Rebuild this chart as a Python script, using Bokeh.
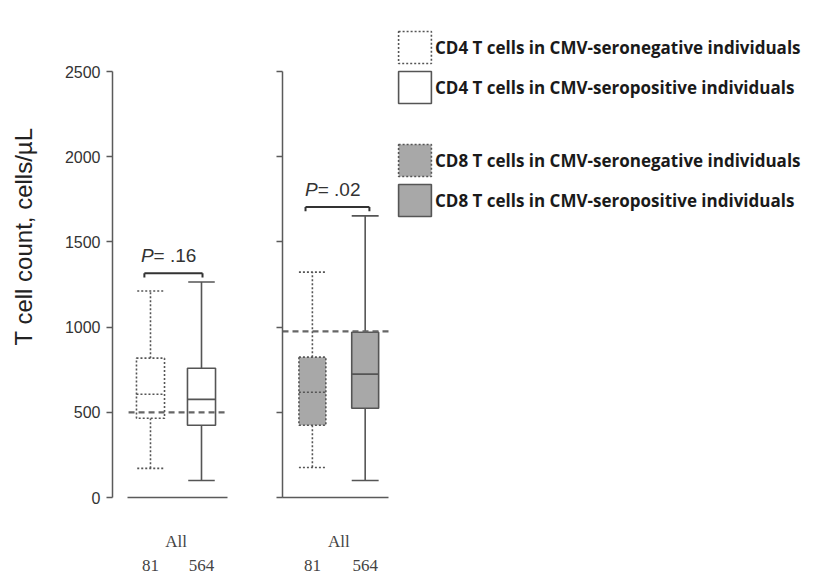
import math
from bokeh.plotting import figure
from bokeh.layouts import row
from bokeh.models import (Range1d, FixedTicker, LinearAxis, Legend, LegendItem,
                          ColumnDataSource)
from bokeh.core.properties import value
from bokeh.embed import file_html
from bokeh.resources import INLINE

# ---------------- data ----------------
positions = [1, 2]
groups = ["CMV-seronegative", "CMV-seropositive"]
counts = ["81", "564"]
group_label = "All"
y_ticks = [0, 500, 1000, 1500, 2000, 2500]

cd4_min = [171, 100]
cd4_q1 = [465, 424]
cd4_median = [606, 576]
cd4_q3 = [818, 759]
cd4_max = [1212, 1265]

cd8_min = [176, 100]
cd8_q1 = [424, 524]
cd8_median = [618, 724]
cd8_q3 = [824, 970]
cd8_max = [1323, 1653]

cd4_reference = 500
cd8_reference = 975
cd4_p = "= .16"
cd8_p = "= .02"

legend_labels = [
    "CD4 T cells in CMV-seronegative individuals",
    "CD4 T cells in CMV-seropositive individuals",
    "CD8 T cells in CMV-seronegative individuals",
    "CD8 T cells in CMV-seropositive individuals",
]
y_label = "T cell count, cells/\u00b5L"

# ---------------- styles ----------------
LINE = "#555555"
AXIS = "#5a5a5a"
GRAY = "#a8a8a8"
DASHES = ["2 2", "solid"]
SANS = "Liberation Sans"
SERIF = "Liberation Serif"
HEIGHT = 573
Y_RANGE = (0, 2800)


def base_fig(width, border_left, x_range):
    p = figure(width=width, height=HEIGHT, x_range=x_range, y_range=Range1d(*Y_RANGE),
               output_backend="svg", toolbar_location=None,
               x_axis_type=None, y_axis_type=None,
               min_border_left=border_left, min_border_right=0,
               min_border_top=20, min_border_bottom=76)
    p.outline_line_color = None
    p.background_fill_color = "white"
    p.border_fill_color = "white"
    return p


def add_axes(p, labels, xbounds):
    ya = LinearAxis(ticker=FixedTicker(ticks=y_ticks), bounds=(0, 2500))
    ya.axis_line_color = AXIS
    ya.axis_line_width = 1.5
    ya.major_tick_line_color = AXIS
    ya.major_tick_line_width = 1.5
    ya.major_tick_in = 0
    ya.major_tick_out = 6
    ya.minor_tick_line_color = None
    if labels:
        ya.major_label_text_font = SANS
        ya.major_label_text_font_size = "16px"
        ya.major_label_text_color = "#333333"
        ya.major_label_standoff = 6
    else:
        ya.major_label_overrides = {t: "" for t in y_ticks}
    p.add_layout(ya, "left")

    mid = sum(positions) / len(positions)
    xa = LinearAxis(ticker=FixedTicker(ticks=[mid]), bounds=xbounds)
    xa.major_label_overrides = {mid: group_label}
    xa.axis_line_color = AXIS
    xa.axis_line_width = 1.5
    xa.major_tick_line_color = None
    xa.minor_tick_line_color = None
    xa.major_label_standoff = 28
    xa.major_label_text_font = SERIF
    xa.major_label_text_font_size = "17px"
    xa.major_label_text_color = "#444444"
    p.add_layout(xa, "below")

    xb = LinearAxis(ticker=FixedTicker(ticks=positions))
    xb.major_label_overrides = {pos: c for pos, c in zip(positions, counts)}
    xb.axis_line_color = None
    xb.major_tick_line_color = None
    xb.minor_tick_line_color = None
    xb.major_label_standoff = 0
    xb.major_label_text_font = SERIF
    xb.major_label_text_font_size = "17px"
    xb.major_label_text_color = "#444444"
    p.add_layout(xb, "below")


def draw_boxes(p, mins, q1s, meds, q3s, maxs, fill, width, cap):
    renderers = []
    for i, pos in enumerate(positions):
        dash = DASHES[i]
        src = ColumnDataSource(dict(x=[pos], lo=[mins[i]], q1=[q1s[i]], med=[meds[i]],
                                    q3=[q3s[i]], hi=[maxs[i]],
                                    l=[pos - width / 2], r=[pos + width / 2],
                                    cl=[pos - cap / 2], cr=[pos + cap / 2]))
        kw = dict(line_color=LINE, line_width=1.6, line_dash=dash, source=src)
        p.segment(x0="x", y0="q3", x1="x", y1="hi", **kw)
        p.segment(x0="x", y0="q1", x1="x", y1="lo", **kw)
        p.segment(x0="cl", y0="hi", x1="cr", y1="hi", **kw)
        p.segment(x0="cl", y0="lo", x1="cr", y1="lo", **kw)
        r = p.vbar(x="x", bottom="q1", top="q3", width=width, fill_color=fill,
                   **kw)
        p.segment(x0="l", y0="med", x1="r", y1="med", **kw)
        renderers.append(r)
    return renderers


def draw_reference(p, y, x0, x1):
    p.segment(x0=[x0], y0=[y], x1=[x1], y1=[y], line_color="#666666",
              line_width=2.2, line_dash="6 4")


def draw_p(p, maxs, ptxt, x0, x1, split):
    by = max(maxs) + 52
    p.segment(x0=[x0, x0, x1], y0=[by, by, by], x1=[x1, x0, x1], y1=[by, by - 25, by - 25],
              line_color="#333333", line_width=2)
    ty = by + 40
    p.text(x=[split], y=[ty], text=["P"], text_font=value(SANS), text_font_size="19px",
           text_font_style="italic", text_align="right", text_baseline="bottom",
           text_color="#333333")
    p.text(x=[split], y=[ty], text=[" " + ptxt], text_font=value(SANS), text_font_size="19px",
           text_align="left", text_baseline="bottom", text_color="#333333")


# ---------------- y-axis title strip ----------------
pT = base_fig(40, 0, Range1d(0, 40))
pT.text(x=[23], y=[1532], text=[y_label], angle=math.pi / 2, text_font=value(SANS),
        text_font_size="24px", text_align="center", text_baseline="middle",
        text_color="#222222")

# ---------------- left panel (CD4) ----------------
pA = base_fig(212, 72, Range1d(0.255, 3.0))
add_axes(pA, True, (0.55, 2.51))
draw_boxes(pA, cd4_min, cd4_q1, cd4_median, cd4_q3, cd4_max, "white", 0.55, 0.52)
draw_reference(pA, cd4_reference, 0.57, 2.51)
draw_p(pA, cd4_max, cd4_p, 0.88, 2.02, 1.06)

# ---------------- right panel (CD8) ----------------
pB = base_fig(553, 30, Range1d(0.434, 10.34))
add_axes(pB, False, (0.434, 2.45))
cd8_r = draw_boxes(pB, cd8_min, cd8_q1, cd8_median, cd8_q3, cd8_max, GRAY, 0.51, 0.51)
draw_reference(pB, cd8_reference, 0.434, 2.47)
draw_p(pB, cd8_max, cd8_p, 0.87, 2.08, 1.1)

# legend proxies for CD4 styles (placed off-range, used only for the legend)
cd4_r = []
for dash in DASHES:
    cd4_r.append(pB.vbar(x=[-50], bottom=[0], top=[1], width=0.5, fill_color="white",
                         line_color=LINE, line_width=1.6, line_dash=dash))


def make_legend(items, loc):
    lg = Legend(items=items, location=loc, orientation="vertical",
                glyph_width=41, glyph_height=40, spacing=0, padding=0, margin=0,
                label_standoff=0, label_height=40,
                label_text_font="Open Sans", label_text_font_style="bold",
                label_text_font_size="17px", label_text_color="#1a1a1a",
                background_fill_alpha=0, border_line_color=None)
    return lg


leg1 = make_legend([LegendItem(label=legend_labels[0], renderers=[cd4_r[0]]),
                    LegendItem(label=legend_labels[1], renderers=[cd4_r[1]])], (112, 390))
leg2 = make_legend([LegendItem(label=legend_labels[2], renderers=[cd8_r[0]]),
                    LegendItem(label=legend_labels[3], renderers=[cd8_r[1]])], (112, 277))
pB.add_layout(leg1, "center")
pB.add_layout(leg2, "center")

layout = row(pT, pA, pB)
open("out.html", "w").write(file_html(layout, INLINE))
